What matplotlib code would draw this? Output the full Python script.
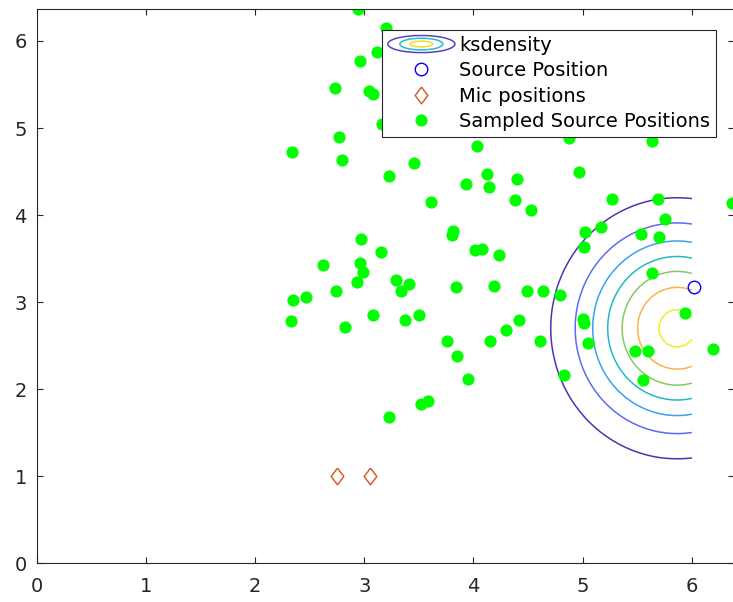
import numpy as np
import matplotlib
matplotlib.use("Agg")
import matplotlib.pyplot as plt
from matplotlib.patches import Ellipse
from matplotlib.lines import Line2D
from matplotlib.legend_handler import HandlerBase

# sampled source positions (x, y)
sample_x = [2.944, 3.20, 3.12, 2.96, 2.73, 3.04, 3.08, 3.16, 2.77, 2.34,
            2.80, 4.03, 4.87, 5.63, 3.46, 3.225, 4.12, 4.14, 3.93, 4.40,
            4.97, 3.61, 4.38, 4.53, 5.27, 5.69, 6.37, 5.75, 3.81, 3.80,
            5.17, 5.02, 5.53, 5.70, 5.01, 2.975, 3.15, 4.01, 4.08, 4.23,
            5.63, 2.62, 2.96, 2.99, 2.93, 3.29, 3.41, 3.34, 2.74, 2.35,
            2.47, 3.84, 4.19, 4.49, 4.64, 4.79, 2.33, 2.82, 3.08, 3.37,
            3.50, 3.76, 3.85, 4.15, 4.30, 4.42, 4.61, 3.95, 4.83, 5.00,
            5.01, 5.05, 5.48, 5.60, 5.55, 5.94, 6.19, 3.52, 3.58, 3.225]
sample_y = [6.37, 6.15, 5.87, 5.77, 5.46, 5.43, 5.39, 5.05, 4.90, 4.73,
            4.63, 4.79, 4.88, 4.85, 4.60, 4.45, 4.47, 4.32, 4.36, 4.41,
            4.49, 4.15, 4.17, 4.06, 4.19, 4.19, 4.14, 3.95, 3.82, 3.77,
            3.86, 3.81, 3.78, 3.75, 3.63, 3.73, 3.58, 3.60, 3.61, 3.54,
            3.34, 3.43, 3.45, 3.35, 3.23, 3.26, 3.21, 3.13, 3.13, 3.02,
            3.06, 3.17, 3.19, 3.13, 3.13, 3.08, 2.78, 2.72, 2.85, 2.79,
            2.85, 2.55, 2.38, 2.55, 2.68, 2.79, 2.55, 2.12, 2.16, 2.81,
            2.76, 2.53, 2.44, 2.44, 2.105, 2.87, 2.46, 1.83, 1.86, 1.68]

source_x = [6.015]
source_y = [3.17]

mic_x = [2.75, 3.05]
mic_y = [1.0, 1.0]

# kernel density surface over the room grid
kde_center = (5.865, 2.70)
kde_sigma = (0.58, 0.752)
kde_levels = [0.137, 0.274, 0.411, 0.548, 0.685, 0.822, 0.959]
level_colors = ["#4a36b0", "#5a6cf2", "#3ca0ec", "#22b9c4",
                "#88c764", "#fbb347", "#f2ec22"]

xlim = (0, 6.385)
ylim = (0, 6.364)

TXT = "#262626"
plt.rcParams["font.family"] = ["DejaVu Sans"]
plt.rcParams["font.size"] = 14


class ContourIconHandler(HandlerBase):
    def create_artists(self, legend, orig_handle, xdescent, ydescent,
                       width, height, fontsize, trans):
        cx = width / 2 - xdescent
        cy = height / 2 - ydescent
        rings = [(width, 0.88 * fontsize, "#5a40c0"),
                 (0.64 * width, 0.60 * fontsize, "#1fc0d0"),
                 (0.34 * width, 0.30 * fontsize, "#f0e020")]
        arts = []
        for w, h, c in rings:
            e = Ellipse((cx, cy), w, h, fill=False, edgecolor=c, lw=1.1,
                        transform=trans)
            arts.append(e)
        return arts


fig = plt.figure(figsize=(7.33, 6.02), dpi=100)
ax = fig.add_axes([36.5 / 733, (602 - 563.3) / 602, (734 - 36.5) / 733, 554 / 602])

gx = np.linspace(3.0, 6.0, 51)
gy = np.linspace(0.0, 6.0, 101)
X, Y = np.meshgrid(gx, gy)
Z = np.exp(-0.5 * ((X - kde_center[0]) / kde_sigma[0]) ** 2
           - 0.5 * ((Y - kde_center[1]) / kde_sigma[1]) ** 2)
ax.contour(X, Y, Z, levels=kde_levels, colors=level_colors, linewidths=1.1)

ax.plot(source_x, source_y, "o", ms=9, mfc="none", mec="#0000ff", mew=1.0)
diamond = [(0, 1), (0.76, 0), (0, -1), (-0.76, 0), (0, 1)]
ax.plot(mic_x, mic_y, ls="none", marker=diamond, ms=12, mfc="none",
        mec="#d95319", mew=1.0)
ax.plot(sample_x, sample_y, "o", ms=8.8, mfc="#00ff00", mec="none")

ax.set_xlim(*xlim)
ax.set_ylim(*ylim)
ax.set_xticks(range(0, 7))
ax.set_yticks(range(0, 7))
ax.tick_params(direction="in", length=4, width=0.8, colors=TXT,
               top=True, right=True, labelsize=14)
ax.tick_params(axis="x", pad=10)
ax.tick_params(axis="y", pad=7)
for sp in ax.spines.values():
    sp.set_color(TXT)
    sp.set_linewidth(0.8)

kde_handle = Line2D([], [])
handles = [
    kde_handle,
    Line2D([], [], ls="none", marker="o", ms=9, mfc="none", mec="#0000ff", mew=1.0),
    Line2D([], [], ls="none", marker=diamond, ms=12, mfc="none", mec="#d95319", mew=1.0),
    Line2D([], [], ls="none", marker="o", ms=8.8, mfc="#00ff00", mec="none"),
]
labels = ["ksdensity", "Source Position", "Mic positions", "Sampled Source Positions"]
leg = ax.legend(handles, labels, loc="upper left",
                bbox_to_anchor=(0.4953, 0.9626), borderaxespad=0,
                handler_map={kde_handle: ContourIconHandler()},
                handlelength=3.45, handletextpad=0.2, borderpad=0.3,
                labelspacing=0.33, fancybox=False, framealpha=1,
                edgecolor=TXT, fontsize=14)
leg.get_frame().set_linewidth(0.8)
for t in leg.get_texts():
    t.set_color("#000000")

fig.savefig("out.png", dpi=100)
